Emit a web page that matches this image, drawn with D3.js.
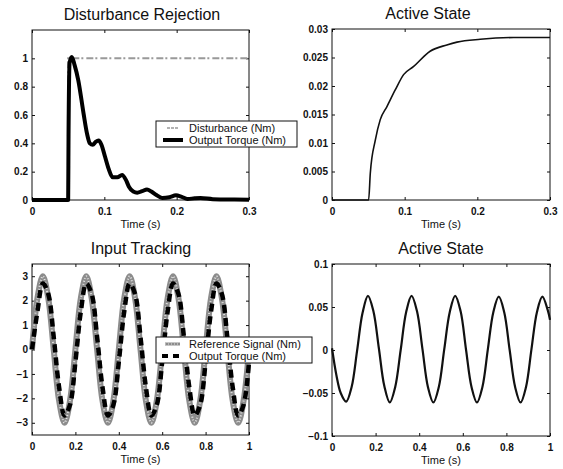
<!DOCTYPE html>
<html>
<head>
<meta charset="utf-8">
<script src="https://cdn.jsdelivr.net/npm/d3@7"></script>
<style>
  body { margin: 0; background: #fff; }
  svg { font-family: Arial, "Liberation Sans", sans-serif; }
  .tick text { font-size: 10px; font-weight: bold; fill: #111; }
  .tick line { stroke: #111; }
</style>
</head>
<body>
<svg width="563" height="469"></svg>
<script>
// --- data ---

// Disturbance Rejection
const distTime = [0, 0.05, 0.05, 0.3];
const distValue = [0, 0, 1, 1];
const torqueTime = [0, 0.05, 0.0505, 0.052, 0.055, 0.059, 0.064, 0.0713, 0.076, 0.08, 0.084, 0.088,
  0.092, 0.096, 0.101, 0.106, 0.1115, 0.118, 0.1245, 0.13, 0.134, 0.14, 0.1455, 0.152, 0.159,
  0.165, 0.172, 0.18, 0.19, 0.199, 0.207, 0.215, 0.225, 0.233, 0.25, 0.28, 0.3];
const torqueValue = [0, 0, 0.45, 0.97, 1.01, 0.95, 0.845, 0.61, 0.47, 0.4, 0.39, 0.41,
  0.42, 0.39, 0.305, 0.22, 0.16, 0.16, 0.176, 0.14, 0.094, 0.06, 0.052, 0.062, 0.075,
  0.06, 0.035, 0.015, 0.02, 0.033, 0.022, 0.007, 0.012, 0.014, 0.006, 0.003, 0.002];

// Active State (step)
const stepTime = [0, 0.05, 0.0504, 0.0527, 0.0596, 0.0664, 0.0756, 0.087, 0.0985, 0.112,
  0.135, 0.158, 0.172, 0.204, 0.25, 0.3];
const stepValue = [0, 0, 0, 0.0047, 0.0105, 0.0141, 0.0164, 0.0193, 0.022, 0.0234,
  0.0261, 0.0272, 0.0277, 0.0282, 0.0285, 0.0285];

// Input Tracking
const trackTime = [0, 0.025, 0.05, 0.075, 0.1, 0.125, 0.15, 0.175, 0.2, 0.225, 0.25, 0.275,
  0.3, 0.325, 0.35, 0.375, 0.4, 0.425, 0.45, 0.475, 0.5, 0.525, 0.55, 0.575, 0.6, 0.625,
  0.65, 0.675, 0.7, 0.725, 0.75, 0.775, 0.8, 0.825, 0.85, 0.875, 0.9, 0.925, 0.95, 0.975, 1];
const refSignal = [0, 2.1, 3, 2.1, 0, -2.1, -3, -2.1, 0, 2.1, 3, 2.1,
  0, -2.1, -3, -2.1, 0, 2.1, 3, 2.1, 0, -2.1, -3, -2.1, 0, 2.1,
  3, 2.1, 0, -2.1, -3, -2.1, 0, 2.1, 3, 2.1, 0, -2.1, -3, -2.1, 0];
const outTorque = [0, 1.55, 2.7, 2.27, 0.51, -1.55, -2.7, -2.27, -0.51, 1.55, 2.7, 2.27,
  0.51, -1.55, -2.7, -2.27, -0.51, 1.55, 2.7, 2.27, 0.51, -1.55, -2.7, -2.27, -0.51, 1.55,
  2.7, 2.27, 0.51, -1.55, -2.7, -2.27, -0.51, 1.55, 2.7, 2.27, 0.51, -1.55, -2.7, -2.27, -0.51];

// Active State (tracking)
const sineTime = [0, 0.02, 0.04, 0.065, 0.09, 0.115, 0.14, 0.165, 0.19, 0.215, 0.24, 0.265,
  0.29, 0.315, 0.34, 0.365, 0.39, 0.415, 0.44, 0.465, 0.49, 0.515, 0.54, 0.565, 0.59, 0.615,
  0.64, 0.665, 0.69, 0.715, 0.74, 0.765, 0.79, 0.815, 0.84, 0.865, 0.89, 0.915, 0.94, 0.965, 0.99, 1];
const sineValue = [0.002, -0.029, -0.05, -0.06, -0.043, -0.001, 0.043, 0.063, 0.045, 0.002, -0.042, -0.061,
  -0.043, 0, 0.044, 0.063, 0.045, 0.001, -0.043, -0.061, -0.043, 0.001, 0.044, 0.063, 0.045, 0,
  -0.043, -0.061, -0.043, 0.001, 0.044, 0.062, 0.044, 0, -0.043, -0.061, -0.043, 0.001, 0.044, 0.062, 0.046, 0.035];

// tick values
const ticksT03 = [0, 0.1, 0.2, 0.3];
const ticksT1 = [0, 0.2, 0.4, 0.6, 0.8, 1];
const ticksDist = [0, 0.2, 0.4, 0.6, 0.8, 1];
const ticksStep = [0, 0.005, 0.01, 0.015, 0.02, 0.025, 0.03];
const ticksTrack = [-3, -2, -1, 0, 1, 2, 3];
const ticksSine = [-0.1, -0.05, 0, 0.05, 0.1];

const svg = d3.select("svg");

// builds one subplot with a box and inward ticks on all sides
function panel(box, xDomain, yDomain, xTicks, yTicks, title, titleX) {
  const g = svg.append("g").attr("transform", `translate(${box.x}, ${box.y})`);
  const x = d3.scaleLinear().domain(xDomain).range([0, box.w]);
  const y = d3.scaleLinear().domain(yDomain).range([box.h, 0]);
  const fmt = d => d3.format("")(+d.toFixed(4)).replace("-", "\u2212");

  g.append("g").attr("transform", `translate(0, ${box.h})`)
    .call(d3.axisBottom(x).tickValues(xTicks).tickSize(-3).tickPadding(8).tickFormat(fmt))
    .call(a => a.select(".domain").remove());
  g.append("g")
    .call(d3.axisLeft(y).tickValues(yTicks).tickSize(-3).tickPadding(4).tickFormat(fmt))
    .call(a => a.select(".domain").remove());
  g.append("g")
    .call(d3.axisTop(x).tickValues(xTicks).tickSize(-3).tickFormat(""))
    .call(a => a.select(".domain").remove());
  g.append("g").attr("transform", `translate(${box.w}, 0)`)
    .call(d3.axisRight(y).tickValues(yTicks).tickSize(-3).tickFormat(""))
    .call(a => a.select(".domain").remove());

  g.append("rect")
    .attr("width", box.w).attr("height", box.h)
    .attr("fill", "none").attr("stroke", "#111").attr("stroke-width", 1);

  svg.append("text")
    .attr("x", titleX).attr("y", box.y - 10)
    .attr("text-anchor", "middle")
    .style("font-size", "16px")
    .attr("fill", "#111")
    .text(title);

  svg.append("text")
    .attr("x", box.x + box.w / 2).attr("y", box.y + box.h + 28)
    .attr("text-anchor", "middle")
    .style("font-size", "11px")
    .attr("fill", "#111")
    .text("Time (s)");

  return { g, x, y };
}

function drawLine(p, xs, ys, curve) {
  return p.g.append("path")
    .datum(xs.map((t, i) => [t, ys[i]]))
    .attr("fill", "none")
    .attr("d", d3.line().x(d => p.x(d[0])).y(d => p.y(d[1])).curve(curve));
}

function legend(x, y, w, items) {
  const lg = svg.append("g").attr("transform", `translate(${x}, ${y})`);
  lg.append("rect").attr("width", w).attr("height", 26)
    .attr("fill", "#fff").attr("stroke", "#111").attr("stroke-width", 1);
  items.forEach((it, i) => {
    const yy = 7 + i * 12;
    it.draw(lg.append("g").attr("transform", `translate(0, ${yy})`));
    lg.append("text").attr("x", 33).attr("y", yy).attr("dy", "0.35em")
      .style("font-size", "11px").attr("fill", "#111").text(it.label);
  });
}

// --- top left ---
const p1 = panel({ x: 32, y: 30, w: 217, h: 170 }, [0, 0.3], [0, 1.2], ticksT03, ticksDist,
  "Disturbance Rejection", 142);
drawLine(p1, distTime, distValue, d3.curveLinear)
  .attr("stroke", "#999").attr("stroke-width", 2).attr("stroke-dasharray", "7,2,2,3");
drawLine(p1, torqueTime, torqueValue, d3.curveMonotoneX)
  .attr("stroke", "#000").attr("stroke-width", 4).attr("stroke-linejoin", "round");

legend(156, 121, 141, [
  { label: "Disturbance (Nm)", draw: s => s.append("line").attr("x1", 11).attr("x2", 23)
      .attr("stroke", "#999").attr("stroke-width", 1.5).attr("stroke-dasharray", "3,1") },
  { label: "Output Torque (Nm)", draw: s => s.append("line").attr("x1", 7).attr("x2", 27)
      .attr("stroke", "#000").attr("stroke-width", 4) }
]);

// --- top right ---
const p2 = panel({ x: 332, y: 29, w: 218, h: 171 }, [0, 0.3], [0, 0.03], ticksT03, ticksStep,
  "Active State", 428);
drawLine(p2, stepTime, stepValue, d3.curveMonotoneX)
  .attr("stroke", "#111").attr("stroke-width", 1.6);

// --- bottom left ---
const p3 = panel({ x: 32, y: 264, w: 217, h: 171 }, [0, 1], [-3.5, 3.5], ticksT1, ticksTrack,
  "Input Tracking", 141);
drawLine(p3, trackTime, refSignal, d3.curveCatmullRom)
  .attr("stroke", "#8c8c8c").attr("stroke-width", 6);
drawLine(p3, trackTime, refSignal, d3.curveCatmullRom)
  .attr("stroke", "#e2e2e2").attr("stroke-width", 2).attr("stroke-dasharray", "1,2");
drawLine(p3, trackTime, outTorque, d3.curveCatmullRom)
  .attr("stroke", "#000").attr("stroke-width", 4.5).attr("stroke-dasharray", "8,5");

legend(156, 337, 156, [
  { label: "Reference Signal (Nm)", draw: s => {
      s.append("line").attr("x1", 9).attr("x2", 24).attr("stroke", "#8c8c8c").attr("stroke-width", 3);
      s.append("line").attr("x1", 9).attr("x2", 24).attr("stroke", "#e2e2e2")
        .attr("stroke-width", 1).attr("stroke-dasharray", "1,2");
    } },
  { label: "Output Torque (Nm)", draw: s => s.append("line").attr("x1", 6).attr("x2", 28)
      .attr("stroke", "#000").attr("stroke-width", 4).attr("stroke-dasharray", "6,5") }
]);

// --- bottom right ---
const p4 = panel({ x: 332, y: 264, w: 218, h: 172 }, [0, 1], [-0.1, 0.1], ticksT1, ticksSine,
  "Active State", 441);
drawLine(p4, sineTime, sineValue, d3.curveCatmullRom)
  .attr("stroke", "#111").attr("stroke-width", 2.2);
</script>
</body>
</html>
